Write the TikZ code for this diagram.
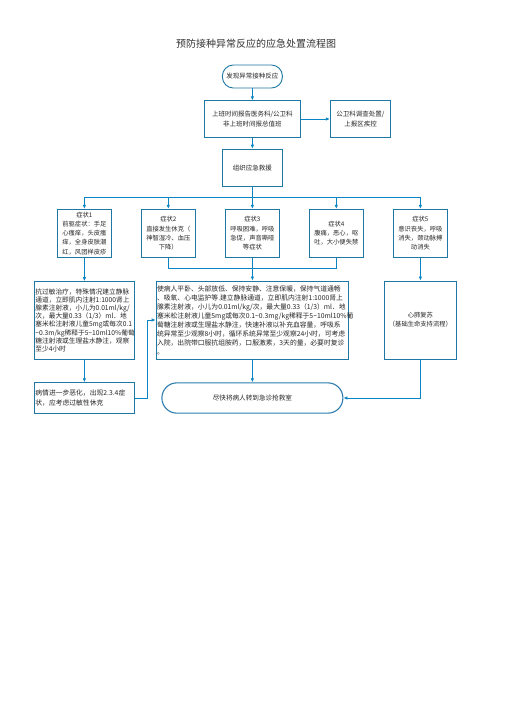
\documentclass[tikz,border=0pt]{standalone}
\usepackage{fontspec}
\newfontfamily\cjk{Noto Sans CJK SC}
\usetikzlibrary{shapes}
\usetikzlibrary{arrows.meta}
\definecolor{boxblue}{RGB}{30,120,165}
\definecolor{lineblue}{RGB}{10,132,194}
\definecolor{ovalblue}{RGB}{45,125,175}
\tikzstyle{flow}=[rectangle,draw=boxblue,line width=0.9pt,align=center,inner sep=1pt,text=black!85]
\tikzstyle{head}=[flow,font=\cjk\fontsize{6.5}{9.3}\selectfont]
\tikzstyle{oval}=[flow,draw=ovalblue,line width=1.1pt]
\tikzstyle{sym}=[flow,minimum width=54pt,minimum height=48pt,font=\cjk\fontsize{6.3}{9.3}\selectfont]
\tikzstyle{note}=[flow,align=left,font=\cjk\fontsize{6.7}{8.1}\selectfont]
\tikzstyle{link}=[draw=lineblue,line width=0.8pt]
\tikzstyle{arr}=[link,-{Latex[length=4pt,width=3.5pt]}]

\begin{document}
\begin{tikzpicture}[x=1pt,y=-1pt]
	\fill[white] (0,0) rectangle (504,713);
	\useasboundingbox (0,0) rectangle (504,713);

	\node[font=\cjk\fontsize{10}{12}\selectfont,text=black!80] (title) at (256,44) {预防接种异常反应的应急处置流程图};

	\node[oval,head,rounded corners=11pt,minimum width=60pt,minimum height=23pt] (find) at (252.4,76.5) {发现异常接种反应};
	\node[head,minimum width=96.4pt,minimum height=36.3pt] (report) at (252.4,119) {上班时间报告医务科/公卫科\\非上班时间报总值班};
	\node[head,minimum width=60.4pt,minimum height=36.3pt] (survey) at (360.5,119) {公卫科调查处置/\\上报区疾控};
	\node[head,minimum width=60pt,minimum height=37.7pt] (rescue) at (252.4,168) {组织应急救援};

	\node[sym] (s1) at (84.4,233.3) {症状1\\前驱症状：手足\\心瘙痒，头皮瘙\\痒，全身皮肤潮\\红，风团样皮疹};
	\node[sym] (s2) at (168.3,233.3) {症状2\\直接发生休克（\\神智湿冷、血压\\下降）};
	\node[sym] (s3) at (252.4,233.3) {症状3\\呼吸困难，呼吸\\急促，声音嘶哑\\等症状};
	\node[sym] (s4) at (336.3,233.3) {症状4\\腹痛，恶心，呕\\吐，大小便失禁};
	\node[sym] (s5) at (420.4,233.3) {症状5\\意识丧失，呼吸\\消失，颈动脉搏\\动消失};

	\node[note,text width=98pt,minimum height=77.3pt] (treat) at (84.4,320.3) {抗过敏治疗，特殊情况建立静脉\\通道，立即肌内注射1:1000肾上\\腺素注射液，小儿为0.01ml/kg/\\次，最大量0.33（1/3）ml．地\\塞米松注射液儿童5mg或每次0.1\\\textasciitilde0.3m/kg稀释于5\textasciitilde10ml10\%葡萄\\糖注射液或生理盐水静注，观察\\至少4小时};
	\node[note,text width=190.7pt,minimum height=78pt,font=\cjk\fontsize{6.8}{9}\selectfont] (care) at (252.4,320) {使病人平卧、头部放低、保持安静、注意保暖，保持气道通畅\\、吸氧、心电监护等.建立静脉通道，立即肌内注射1:1000肾上\\腺素注射液，小儿为0.01ml/kg/次，最大量0.33（1/3）ml．地\\塞米松注射液儿童5mg或每次0.1\textasciitilde0.3mg/kg稀释于5\textasciitilde10ml10\%葡\\萄糖注射液或生理盐水静注，快速补液以补充血容量，呼吸系\\统异常至少观察8小时，循环系统异常至少观察24小时，可考虑\\入院，出院带口服抗组胺药，口服激素，3天的量，必要时复诊\\。};
	\node[flow,minimum width=72.2pt,minimum height=78pt,font=\cjk\fontsize{6.3}{9.3}\selectfont] (cpr) at (420.4,320) {心肺复苏\\（基础生命支持流程）};

	\node[note,text width=98pt,minimum height=30.6pt,font=\cjk\fontsize{6.8}{9.3}\selectfont] (worse) at (84.4,398) {病情进一步恶化，出现2.3.4症\\状，应考虑过敏性休克};
	\node[oval,rounded corners=15pt,minimum width=181pt,minimum height=30.3pt,font=\cjk\fontsize{6.6}{9}\selectfont] (er) at (252.4,398) {尽快将病人转到急诊抢救室};

	\draw[arr] (find) -- (report);
	\draw[arr] (report) -- (survey);
	\draw[arr] (report) -- (rescue);

	\coordinate (fork) at (252.4,197);
	\draw[link] (rescue) -- (fork);
	\draw[link] (s1.north |- fork) -- (s5.north |- fork);
	\foreach \s in {s1,s2,s3,s4,s5}
		\draw[arr] (\s.north |- fork) -- (\s.north);

	\coordinate (merge) at (252.4,268);
	\draw[link] (s2.south) |- (merge);
	\draw[link] (s4.south) |- (merge);
	\draw[arr] (s1) -- (treat);
	\draw[arr] (s3) -- (care);
	\draw[arr] (s5) -- (cpr);

	\draw[arr] (treat) -- (worse);
	\draw[arr] (worse.east) -- ++(12.4,0) |- (care.west);
	\draw[arr] (care) -- (er);
	\draw[arr] (cpr.south) |- (er.east);
\end{tikzpicture}
\end{document}
